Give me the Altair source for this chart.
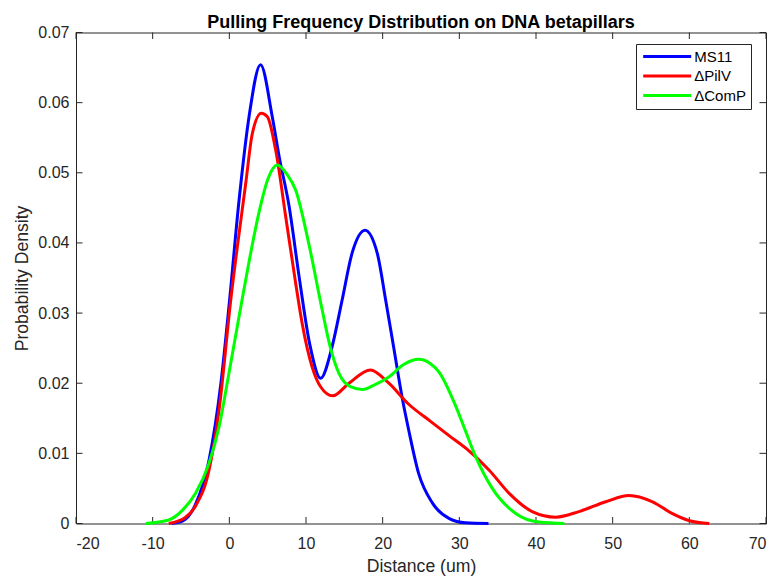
import altair as alt
import pandas as pd

# ---- data ----
SERIES = ["MS11", "\u0394PilV", "\u0394ComP"]
COLORS = ["#0000FF", "#FF0000", "#00FF00"]

ms11_x = [-7.5, -6.2, -4.5, -2.65, -1.1, 0.0, 1.27, 2.57, 4.07, 5.6, 6.5, 7.8, 9.1, 10.5, 11.9,
          13.4, 14.7, 16.0, 17.7, 19.3, 20.4, 21.5, 22.6, 23.4, 24.7, 26.5, 28.7, 30.8, 33.8]
ms11_y = [0, 0.0003, 0.0025, 0.0090, 0.0200, 0.0315, 0.0461, 0.0580, 0.0654, 0.0580, 0.0523,
          0.0452, 0.0352, 0.0255, 0.0207, 0.0252, 0.0318, 0.0385, 0.0418, 0.0385, 0.0318, 0.0247,
          0.0176, 0.0133, 0.0071, 0.0029, 0.0007, 0.0001, 0]

pilv_x = [-7.9, -5.7, -4.4, -2.65, -1.34, 0.18, 2.14, 3.0, 4.17, 4.96, 6.05, 7.36, 8.66, 9.5,
          10.8, 11.9, 13.5, 15.6, 18.4, 20.8, 23.4, 26.2, 28.7, 31.0, 33.9, 36.5, 39.5, 42.6,
          45.6, 49.1, 52.1, 55.2, 57.8, 60.0, 62.6]
pilv_y = [0, 0.0009, 0.0025, 0.0076, 0.0162, 0.0318, 0.0485, 0.0556, 0.0585, 0.0580, 0.0532,
          0.0437, 0.0342, 0.0285, 0.0223, 0.0195, 0.0182, 0.0200, 0.0219, 0.0200, 0.0170, 0.0146,
          0.0125, 0.0106, 0.0076, 0.0043, 0.0017, 0.0009, 0.0017, 0.0031, 0.0040, 0.0031, 0.0014,
          0.0004, 0]

comp_x = [-10.9, -7.9, -6.1, -4.4, -2.65, -1.34, -0.04, 1.27, 2.6, 3.9, 5.0, 6.26, 7.5, 8.66,
          10.4, 12.1, 13.2, 14.3, 15.8, 17.35, 19.0, 20.8, 22.8, 24.7, 26.2, 27.4, 29.5, 30.8,
          32.1, 34.3, 37.4, 40.4, 43.7]
comp_y = [0, 0.0005, 0.0019, 0.0043, 0.0086, 0.0138, 0.0215, 0.0295, 0.0375, 0.0445, 0.0490,
          0.0511, 0.0498, 0.0475, 0.0397, 0.0305, 0.0250, 0.0214, 0.0195, 0.0191, 0.0198, 0.0209,
          0.0227, 0.0234, 0.0228, 0.0215, 0.0168, 0.0132, 0.0096, 0.0050, 0.0014, 0.0002, 0]

X_TICKS = [-20, -10, 0, 10, 20, 30, 40, 50, 60, 70]
Y_TICKS = [0, 0.01, 0.02, 0.03, 0.04, 0.05, 0.06, 0.07]

W, H = 690, 491
AX = "#262626"
FONT = "Liberation Sans"

rows = []
for name, xs, ys in [(SERIES[0], ms11_x, ms11_y), (SERIES[1], pilv_x, pilv_y), (SERIES[2], comp_x, comp_y)]:
    for i, (a, b) in enumerate(zip(xs, ys)):
        rows.append({"series": name, "x": a, "y": b, "i": i})
df = pd.DataFrame(rows)

xscale = alt.Scale(domain=[-20, 70], nice=False, zero=False)
yscale = alt.Scale(domain=[0, 0.07], nice=False, zero=False)

lines = alt.Chart(df).mark_line(strokeWidth=3, interpolate="monotone").encode(
    x=alt.X("x:Q", scale=xscale,
            axis=alt.Axis(values=X_TICKS, title="Distance (um)", grid=False, domain=False,
                          ticks=False, tickSize=0, labelPadding=12, labelFontSize=16,
                          labelColor=AX, labelFont=FONT, labelExpr="'' + datum.value",
                          titleFontSize=17.6, titleFont=FONT, titleColor=AX, titleFontWeight="normal",
                          titleY=43, titleX=W / 2, titleBaseline="middle")),
    y=alt.Y("y:Q", scale=yscale,
            axis=alt.Axis(values=Y_TICKS, title="Probability Density", grid=False, domain=False,
                          ticks=False, tickSize=0, labelPadding=7, labelFontSize=16,
                          labelColor=AX, labelFont=FONT,
                          labelExpr="datum.value == 0 ? '0' : format(datum.value, '.2f')",
                          titleFontSize=17.6, titleFont=FONT, titleColor=AX, titleFontWeight="normal",
                          titleX=-54, titleY=H / 2, titleBaseline="middle", titleAlign="center")),
    color=alt.Color("series:N", scale=alt.Scale(domain=SERIES, range=COLORS),
                    legend=alt.Legend(title=None, orient="none", legendX=560, legendY=11.5,
                                      fillColor="white", strokeColor=AX, padding=5,
                                      symbolType="M-4,0H4", symbolSize=144, symbolStrokeWidth=3,
                                      symbolOffset=18.7, labelOffset=19.5, labelFontSize=15,
                                      labelFont=FONT, labelColor="#000000", rowPadding=3.5)),
    order=alt.Order("i:Q"),
    detail="series:N",
)

xt = pd.DataFrame({"t": X_TICKS})
yt = pd.DataFrame({"t": Y_TICKS})
TL = 6.5
tick_style = dict(color=AX, strokeWidth=1)
xb = alt.Chart(xt).mark_rule(**tick_style).encode(x=alt.X("t:Q", scale=xscale), y=alt.value(H), y2=alt.value(H - TL))
xtp = alt.Chart(xt).mark_rule(**tick_style).encode(x=alt.X("t:Q", scale=xscale), y=alt.value(0), y2=alt.value(TL))
yl = alt.Chart(yt).mark_rule(**tick_style).encode(y=alt.Y("t:Q", scale=yscale), x=alt.value(0), x2=alt.value(TL))
yr = alt.Chart(yt).mark_rule(**tick_style).encode(y=alt.Y("t:Q", scale=yscale), x=alt.value(W), x2=alt.value(W - TL))

chart = alt.layer(xb, xtp, yl, yr, lines).properties(
    width=W, height=H,
    autosize=alt.AutoSizeParams(type="none"),
    padding={"left": 68, "top": 24.5, "right": 2, "bottom": 54},
    title=alt.Title("Pulling Frequency Distribution on DNA betapillars", fontSize=18,
                    font=FONT, fontWeight="bold", color="#000000", anchor="middle", offset=-7),
    background="white",
).configure_view(stroke=AX, strokeWidth=1)

chart.save("out.html", embed_options={"renderer": "svg", "actions": False})
